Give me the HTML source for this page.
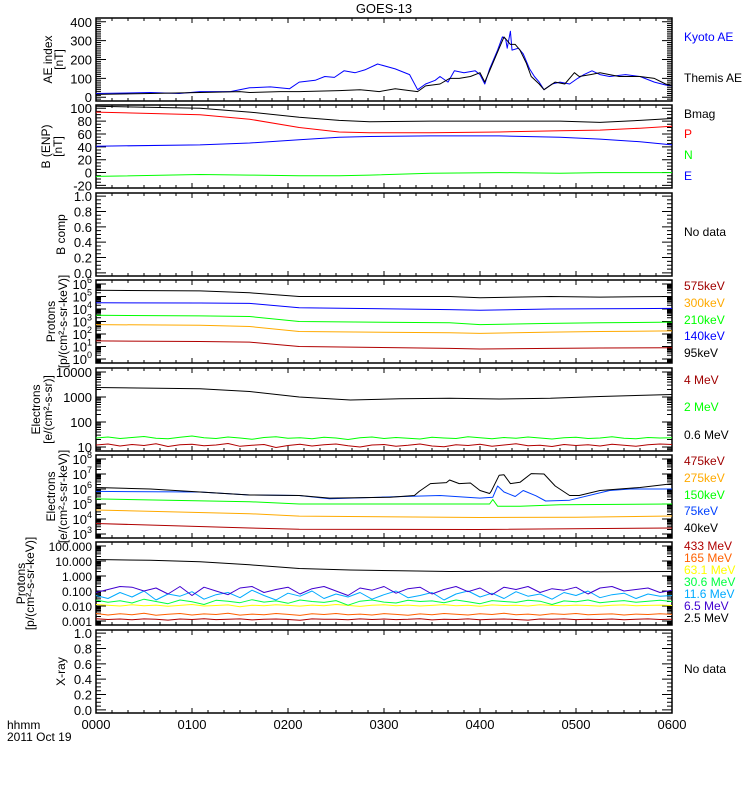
<!DOCTYPE html>
<html><head><meta charset="utf-8"><style>
html,body{margin:0;padding:0;background:#fff;}
svg{display:block;font-family:"Liberation Sans",sans-serif;}
</style></head><body>
<svg id="chart" width="750" height="800" viewBox="0 0 750 800" xmlns="http://www.w3.org/2000/svg">
<text x="384" y="13" font-size="13" text-anchor="middle">GOES-13</text>
<text x="7" y="729" font-size="12">hhmm</text>
<text x="7" y="741" font-size="12">2011 Oct 19</text>
</svg>
<script>
// ---------- data ----------
const xTickLabels = ["0000","0100","0200","0300","0400","0500","0600"];
// AE (times in minutes)
const aeKyotoT = [0,15,34,52,65,84,96,109,121,127,137,143,149,155,162,168,176,187,196,201,206,212,215,220,224,230,237,240,243,246,251,254,256,257,259,260,264,267,271,274,277,280,285,290,296,301,305,310,315,321,331,340,349,356,360];
const aeKyotoV = [20,22,25,20,30,30,50,55,45,80,90,110,105,140,130,145,176,150,120,40,70,90,110,80,140,130,140,120,70,150,250,320,310,260,350,250,260,230,150,110,80,40,70,80,70,100,120,140,120,110,120,110,80,65,60];
const aeThemisT = [0,34,65,90,96,115,127,152,165,171,177,187,196,201,206,215,221,227,234,240,243,247,252,255,259,262,265,269,272,277,280,287,293,299,302,309,315,327,340,349,356,360];
const aeThemisV = [15,20,25,30,25,30,30,35,40,35,30,45,35,30,60,70,100,100,110,130,80,160,260,320,280,280,250,180,110,70,40,80,70,130,110,120,130,110,110,100,70,60];
// B field (ENP)
const bT = [0,65,96,127,152,171,209,252,290,315,340,360];
const bMag = [103,100,94,86,81,79,80,80,80,78,81,84];
const bP = [94,90,83,70,63,62,62,63,65,66,69,72];
const bN = [-6,-3,-4,-5,-5,-4,-1,0,-1,0,0,0];
const bE = [41,43,46,51,55,56,57,57,55,52,48,43];
// GOES protons (log10 flux)
const pT = [0,65,96,127,221,240,284,315,360];
const p95 = [5.5,5.45,5.3,5.0,5.0,4.9,5.0,4.95,5.0];
const p140 = [4.5,4.48,4.45,4.1,3.95,3.9,4.0,4.02,4.05];
const p210 = [3.5,3.45,3.4,3.0,2.9,2.75,2.85,2.9,2.95];
const p300 = [2.75,2.7,2.6,2.2,2.1,2.05,2.15,2.2,2.25];
const p575 = [1.45,1.4,1.35,1.0,0.85,0.8,0.85,0.88,0.9];
// MeV electrons (log10 flux)
const e06T = [0,65,96,127,159,190,221,252,284,315,360];
const e06 = [3.38,3.33,3.22,3.0,2.88,2.93,2.95,2.92,2.95,3.02,3.1];
const e2 = [1.36,1.40,1.34,1.38,1.42,1.35,1.33,1.39,1.44,1.37,1.34,1.40,1.36,1.31,1.38,1.41,1.35,1.37,1.33,1.39,1.36,1.30,1.37,1.40,1.34,1.38,1.35,1.32,1.39,1.36,1.34,1.41,1.37,1.33,1.38,1.35,1.40,1.36,1.32,1.37,1.39,1.34,1.36,1.41,1.35,1.33,1.38,1.36,1.37];
const e4 = [1.08,1.12,1.04,1.10,1.06,1.13,1.02,1.09,1.11,1.05,1.08,1.14,1.03,1.07,1.10,0.98,1.06,1.11,1.04,1.09,1.12,1.05,1.00,1.08,1.10,1.03,1.07,1.12,1.04,1.01,1.09,1.06,1.11,1.03,1.08,1.13,1.05,1.07,1.02,1.10,1.06,1.09,1.04,1.11,1.07,1.03,1.09,1.12,1.10];
// keV electrons (log10 flux)
const ek40T = [0,34,65,96,127,146,184,199,202,209,219,221,227,234,240,246,247,252,255,259,265,272,280,287,296,302,315,340,360];
const ek40 = [6.1,6.0,5.8,5.6,5.57,5.39,5.45,5.57,5.84,6.36,6.43,6.6,6.36,6.4,5.9,5.7,5.85,6.92,6.95,6.36,6.45,7.03,7.0,6.2,5.57,5.57,5.9,6.1,6.35];
const ek75T = [0,65,96,127,146,177,215,240,248,251,255,262,267,275,281,296,321,334,360];
const ek75 = [5.84,5.8,5.6,5.57,5.35,5.45,5.57,5.39,5.45,6.2,5.8,5.5,5.9,5.55,5.2,5.25,5.9,6.0,6.0];
const ek150T = [0,96,127,246,248,251,265,290,360];
const ek150 = [5.34,5.15,5.0,5.0,5.3,4.85,4.85,4.95,5.0];
const ek275T = [0,96,127,240,300,360];
const ek275 = [4.6,4.35,4.19,4.1,4.12,4.2];
const ek475T = [0,96,127,240,360];
const ek475 = [3.7,3.4,3.32,3.3,3.4];
// MeV protons (log10 flux)
const pm25T = [0,34,65,96,127,159,190,221,252,284,315,360];
const pm25 = [1.1,1.05,0.95,0.75,0.5,0.4,0.35,0.3,0.32,0.3,0.28,0.3];
const pm65 = [-1.1,-0.9,-0.7,-0.75,-1.0,-0.8,-1.2,-0.7,-1.3,-0.75,-1.0,-1.25,-0.8,-0.7,-1.1,-0.9,-0.75,-1.2,-0.85,-0.7,-1.0,-1.3,-0.8,-0.95,-0.7,-1.15,-0.85,-0.75,-1.2,-0.9,-0.7,-1.05,-0.8,-1.25,-0.75,-0.9,-0.7,-1.1,-0.85,-0.95,-0.75,-1.2,-0.8,-0.7,-1.0,-0.9,-0.8,-1.1,-0.95];
const pm116 = [-1.3,-1.5,-1.1,-1.4,-1.0,-1.6,-1.2,-1.35,-1.05,-1.55,-1.25,-1.1,-1.45,-0.95,-1.3,-1.6,-1.15,-1.35,-1.0,-1.5,-1.2,-1.4,-1.1,-1.55,-1.25,-1.0,-1.45,-1.3,-1.1,-1.6,-1.2,-1.0,-1.4,-1.15,-1.5,-1.05,-1.35,-1.2,-1.55,-1.1,-1.3,-1.0,-1.45,-1.25,-1.15,-1.5,-1.2,-1.35,-1.3];
const pm306 = [-1.6,-1.75,-1.65,-1.8,-1.55,-1.7,-1.85,-1.6,-1.72,-1.9,-1.62,-1.68,-1.78,-1.58,-1.74,-1.66,-1.82,-1.6,-1.7,-1.76,-1.64,-1.95,-1.68,-1.6,-1.74,-1.8,-1.62,-1.7,-1.66,-1.78,-1.6,-1.72,-1.85,-1.64,-1.7,-1.76,-1.62,-1.68,-1.9,-1.66,-1.72,-1.6,-1.78,-1.7,-1.64,-1.75,-1.68,-1.62,-1.7];
const pm631 = [-1.9,-1.95,-2.0,-1.92,-1.98,-1.94,-2.02,-1.96,-1.9,-2.0,-1.97,-1.93,-2.05,-1.95,-1.99,-1.92,-1.96,-2.01,-1.94,-1.98,-1.9,-1.96,-2.03,-1.95,-1.92,-1.99,-1.94,-2.0,-1.96,-1.91,-1.98,-1.95,-2.02,-1.93,-1.97,-1.95,-2.0,-1.92,-1.96,-1.99,-1.94,-1.97,-2.01,-1.95,-1.93,-1.98,-1.96,-1.94,-1.97];
const pm165 = [-2.5,-2.6,-2.52,-2.58,-2.48,-2.62,-2.55,-2.5,-2.6,-2.53,-2.57,-2.49,-2.61,-2.54,-2.58,-2.5,-2.56,-2.63,-2.52,-2.57,-2.5,-2.59,-2.54,-2.6,-2.51,-2.56,-2.62,-2.53,-2.58,-2.5,-2.55,-2.6,-2.52,-2.57,-2.49,-2.58,-2.54,-2.61,-2.52,-2.56,-2.5,-2.59,-2.55,-2.53,-2.6,-2.54,-2.57,-2.52,-2.56];
const pm433 = [-2.85,-2.9,-2.87,-2.92,-2.86,-2.89,-2.94,-2.87,-2.9,-2.85,-2.91,-2.88,-2.86,-2.93,-2.89,-2.87,-2.9,-2.95,-2.86,-2.89,-2.88,-2.92,-2.86,-2.9,-2.87,-2.91,-2.89,-2.85,-2.93,-2.88,-2.9,-2.86,-2.92,-2.88,-2.87,-2.9,-2.94,-2.87,-2.89,-2.86,-2.91,-2.88,-2.9,-2.87,-2.92,-2.88,-2.86,-2.9,-2.89];

// ---------- layout ----------
const svg = document.getElementById('chart');
const NS = 'http://www.w3.org/2000/svg';
const X0 = 96, X1 = 672, PH = 83;
function xs(t){ return X0 + (X1 - X0) * t / 360; }
function mk(tag, attrs, parent){ const e = document.createElementNS(NS, tag); for (const k in attrs) e.setAttribute(k, attrs[k]); (parent||svg).appendChild(e); return e; }
function evenT(n){ const a=[]; for(let i=0;i<n;i++) a.push(360*i/(n-1)); return a; }

const panels = [
 {name:'ae', min:-20, max:420, log:false, major:[0,100,200,300,400], minorStep:10, titles:['AE index','[nT]'], tx:[52,63]},
 {name:'bfield', min:-24, max:105, log:false, major:[-20,0,20,40,60,80,100], minorStep:5, titles:['B (ENP)','[nT]'], tx:[50,62]},
 {name:'bcomp', min:-0.04, max:1.04, log:false, major:[0,0.2,0.4,0.6,0.8,1.0], minorStep:0.05, titles:['B comp'], tx:[65], fmt:v=>v.toFixed(1)},
 {name:'protons-kev', min:-0.32, max:6.32, log:true, major:[0,1,2,3,4,5,6], sup:true, titles:['Protons','[p/(cm\u00b2-s-sr-keV)]'], tx:[55,67]},
 {name:'electrons-mev', min:0.84, max:4.16, log:true, major:[1,2,3,4], labels:['10','100','1000','10000'], titles:['Electrons','[e/(cm\u00b2-s-sr)]'], tx:[40,52]},
 {name:'electrons-kev', min:2.73, max:8.27, log:true, major:[3,4,5,6,7,8], sup:true, titles:['Electrons','[e/(cm\u00b2-s-sr-keV)]'], tx:[55,67]},
 {name:'protons-mev', min:-3.27, max:2.27, log:true, major:[-3,-2,-1,0,1,2], labels:['0.001','0.010','0.100','1.000','10.000','100.000'], titles:['Protons','[p/(cm\u00b2-s-sr-keV)]'], tx:[25,34], fs:12},
 {name:'xray', min:-0.04, max:1.04, log:false, major:[0,0.2,0.4,0.6,0.8,1.0], minorStep:0.05, titles:['X-ray'], tx:[65], fmt:v=>v.toFixed(1)}
];
panels.forEach((p,i)=>{ p.top = Math.round(18 + 87.4*i); p.bot = p.top + PH; });
function ys(p, v){ return p.bot - (v - p.min) / (p.max - p.min) * PH; }

// draw axes
panels.forEach((p)=>{
  const g = mk('g', {});
  
  
  const frame = mk('rect', {x:X0, y:p.top, width:X1-X0, height:PH, fill:'none', stroke:'#000', 'stroke-width':1.5}, g);
  
  
  let d = '';
  for (let m = 0; m <= 360; m += 10) {
    const x = xs(m), L = (m % 60 === 0) ? 5 : 3;
    d += `M${x},${p.bot}v${-L}M${x},${p.top}v${L}`;
  }
  const majL = 10, minL = 5;
  p.major.forEach(v=>{ const y = ys(p, v); d += `M${X0},${y}h${majL}M${X1},${y}h${-majL}`; });
  if (p.log) {
    for (let e = Math.floor(p.min); e < Math.ceil(p.max); e++) for (let k = 2; k <= 9; k++) {
      const lv = e + Math.log10(k); if (lv < p.min || lv > p.max) continue;
      const y = ys(p, lv); d += `M${X0},${y}h${minL}M${X1},${y}h${-minL}`;
    }
  } else {
    for (let v = Math.ceil(p.min / p.minorStep) * p.minorStep; v <= p.max + 1e-9; v += p.minorStep) {
      const y = ys(p, v); d += `M${X0},${y}h${minL}M${X1},${y}h${-minL}`;
    }
  }
  const ticks = mk('path', {d:d, stroke:'#000', 'stroke-width':1, fill:'none'}, g);
  
  
  p.major.forEach((v, j)=>{
    const y = ys(p, v);
    const t = mk('text', {x:92, y:y+5, 'font-size':p.fs||13, 'text-anchor':'end'}, g);
    
    
    if (p.sup) {
      t.textContent = '10';
      const s = mk('tspan', {dy:-6, 'font-size':9}, t); s.textContent = String(v);
    } else if (p.labels) t.textContent = p.labels[j];
    else t.textContent = p.fmt ? p.fmt(v) : String(v);
  });
  const cy = p.top + PH/2;
  p.titles.forEach((s, j)=>{
    const t = mk('text', {x:p.tx[j], y:cy, 'font-size':12, 'text-anchor':'middle', transform:`rotate(-90 ${p.tx[j]} ${cy})`}, g);
    
    
    t.textContent = s;
  });
});

xTickLabels.forEach((s, i)=>{
  const t = mk('text', {x:xs(i*60), y:729, 'font-size':13, 'text-anchor':'middle'});
  
  
  t.textContent = s;
});

function line(pi, T, V, color, name){
  const p = panels[pi];
  const pts = V.map((v, i)=> xs(T[i]).toFixed(1) + ',' + ys(p, v).toFixed(1)).join(' ');
  const e = mk('polyline', {points:pts, fill:'none', stroke:color, 'stroke-width':1, 'stroke-linejoin':'round'});
  
  
}
const DR = '#b00000', OR = '#ffaa00', GR = '#00ff00', BL = '#0000ff';
line(0, aeKyotoT, aeKyotoV, BL, 'kyoto-ae-line');
line(0, aeThemisT, aeThemisV, '#000', 'themis-ae-line');
line(1, bT, bMag, '#000', 'bmag-line');
line(1, bT, bP, '#ff0000', 'bp-line');
line(1, bT, bN, GR, 'bn-line');
line(1, bT, bE, BL, 'be-line');
line(3, pT, p95, '#000', 'proton-95kev-line');
line(3, pT, p140, BL, 'proton-140kev-line');
line(3, pT, p210, GR, 'proton-210kev-line');
line(3, pT, p300, OR, 'proton-300kev-line');
line(3, pT, p575, DR, 'proton-575kev-line');
line(4, e06T, e06, '#000', 'electron-0.6mev-line');
line(4, evenT(e2.length), e2, GR, 'electron-2mev-line');
line(4, evenT(e4.length), e4, DR, 'electron-4mev-line');
line(5, ek475T, ek475, DR, 'electron-475kev-line');
line(5, ek275T, ek275, OR, 'electron-275kev-line');
line(5, ek150T, ek150, GR, 'electron-150kev-line');
line(5, ek75T, ek75, '#0040ff', 'electron-75kev-line');
line(5, ek40T, ek40, '#000', 'electron-40kev-line');
line(6, pm25T, pm25, '#000', 'proton-2.5mev-line');
line(6, evenT(pm433.length), pm433, DR, 'proton-433mev-line');
line(6, evenT(pm165.length), pm165, '#ff6000', 'proton-165mev-line');
line(6, evenT(pm631.length), pm631, '#ffff00', 'proton-63.1mev-line');
line(6, evenT(pm306.length), pm306, '#00ff40', 'proton-30.6mev-line');
line(6, evenT(pm116.length), pm116, '#00aaff', 'proton-11.6mev-line');
line(6, evenT(pm65.length), pm65, '#4000d0', 'proton-6.5mev-line');

const legends = [
 ['Kyoto AE',BL,36],['Themis AE','#000',77],
 ['Bmag','#000',113],['P','#ff0000',133],['N',GR,154],['E',BL,175],
 ['No data','#000',231],
 ['575keV','#a00000',285],['300keV',OR,302],['210keV',GR,319],['140keV',BL,335],['95keV','#000',352],
 ['4 MeV','#a00000',379],['2 MeV',GR,406],['0.6 MeV','#000',434],
 ['475keV','#a00000',460],['275keV',OR,477],['150keV',GR,494],['75keV','#0040ff',510],['40keV','#000',527],
 ['433 MeV','#b00000',545],['165 MeV','#ff6000',557],['63.1 MeV','#ffff00',569],['30.6 MeV','#00ff40',581],['11.6 MeV','#00aaff',593],['6.5 MeV','#4000d0',605],['2.5 MeV','#000',617],
 ['No data','#000',668]
];
legends.forEach(l=>{
  const t = mk('text', {x:684, y:l[2]+5, 'font-size':12, fill:l[1]});
  
  
  t.textContent = l[0];
});
</script>
</body></html>
